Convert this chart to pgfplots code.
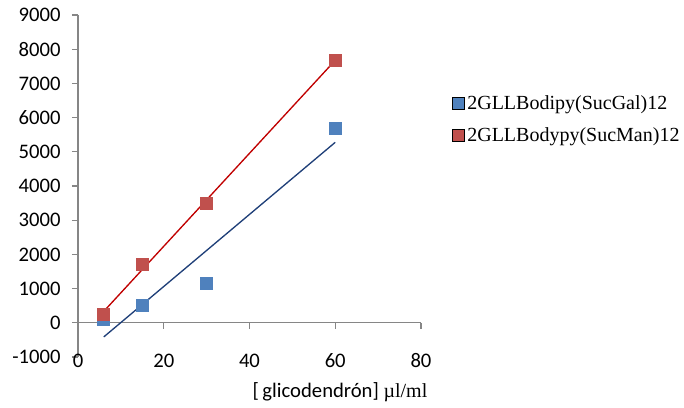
\documentclass[border=0pt]{standalone}
\usepackage{pgfplots}
\pgfplotsset{compat=1.18}
\usepackage{fontspec}
\setmainfont{Carlito}
\newfontfamily\tnr{Liberation Serif}
\definecolor{mblue}{HTML}{4F81BD}
\definecolor{mred}{HTML}{C0504D}
\definecolor{lblue}{HTML}{1F3F78}
\definecolor{lred}{HTML}{C00000}
\definecolor{axgray}{HTML}{868686}
\begin{document}
\begin{tikzpicture}[x=0.75pt,y=0.75pt]
\begin{axis}[
  scale only axis,
  width=257.25pt, height=256.5pt,
  xmin=0, xmax=80, ymin=-1000, ymax=9000,
  axis y line=left, axis x line=bottom,
  axis line style={-, draw=axgray, line width=0.9pt},
  x axis line style={draw=none},
  xtick={0,20,40,60,80},
  ytick={-1000,0,1000,2000,3000,4000,5000,6000,7000,8000,9000},
  xtick style={draw=none},
  ytick style={draw=axgray, line width=0.9pt},
  tick align=outside,
  major tick length=4.5pt,
  yticklabel style={font=\fontsize{15.5}{17}\selectfont, xshift=-5pt},
  xticklabel style={font=\fontsize{15.5}{17}\selectfont, anchor=center, yshift=1.5pt},
  /pgf/number format/assume math mode=true,
  /pgf/number format/1000 sep={},
  clip=false,
  legend style={at={(rel axis cs:1.09,0.694)}, anchor=west, draw=none, fill=none,
    font=\tnr\fontsize{15}{17}\selectfont, row sep=8pt, inner sep=0pt},
  legend cell align=left,
  legend image code/.code={\fill[#1] (0pt,-4.5pt) rectangle (9pt,4.5pt);},
]
\draw[axgray, line width=0.9pt] (axis cs:0,0) -- (axis cs:80,0);
\pgfplotsinvokeforeach{20,40,60,80}{\draw[axgray, line width=0.9pt] (axis cs:#1,0) -- ([yshift=-4.5pt]axis cs:#1,0);}
\addplot[only marks, mark=square*, mark size=4.5pt, mark options={fill=mblue, draw=mblue}, fill=mblue]
  coordinates {(6,117) (15,526) (30,1170) (60,5700)};
\addlegendentry{2GLLBodipy(SucGal)12}
\addplot[only marks, mark=square*, mark size=4.5pt, mark options={fill=mred, draw=mred}, fill=mred]
  coordinates {(6,250) (15,1720) (30,3500) (60,7690)};
\addlegendentry{2GLLBodypy(SucMan)12}
\addplot[lblue, line width=1pt, forget plot] coordinates {(6,-414) (60,5277)};
\addplot[lred, line width=1pt, forget plot] coordinates {(6,333) (60,7675)};
\end{axis}
\node[anchor=base, font=\fontsize{15.5}{17}\selectfont] at (340-78,357-397) {[\,glicodendrón] {\tnr\fontsize{15}{17}\selectfont µl/ml}};
\useasboundingbox (-78,-50) rectangle (606,357);
\end{tikzpicture}
\end{document}
